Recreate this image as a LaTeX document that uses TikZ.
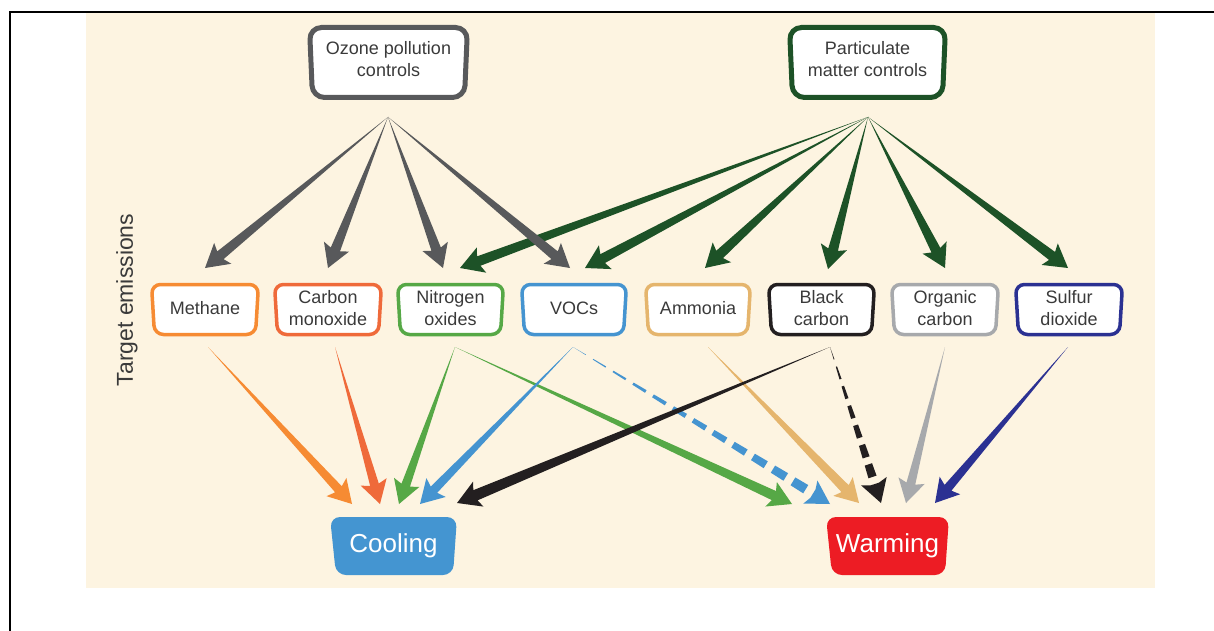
\documentclass[tikz,border=0pt]{standalone}
\usepackage{fontspec}
\setmainfont{Liberation Sans}
\usetikzlibrary{calc}
\definecolor{bg}{HTML}{FDF4E1}
\definecolor{txt}{HTML}{3A3A3A}
\definecolor{ozc}{HTML}{58595B}
\definecolor{pmc}{HTML}{1D5227}
\definecolor{methc}{HTML}{F68B33}
\definecolor{coc}{HTML}{EF6A3A}
\definecolor{noxc}{HTML}{56A846}
\definecolor{vocc}{HTML}{4594D0}
\definecolor{ammc}{HTML}{E5B56D}
\definecolor{bcc}{HTML}{231F20}
\definecolor{occ}{HTML}{A7A9AC}
\definecolor{soc}{HTML}{2B3192}
\definecolor{coolc}{HTML}{4495D1}
\definecolor{warmc}{HTML}{ED1C24}

\def\tyoff{0}
\newcommand\ebox[9]{% name, cx, cy, w, h, color, linewidth, text, radius
  \draw[line width=#7pt,draw=#6,fill=white,rounded corners=#9pt]
    ({#2-#4/2},{#3-#5/2}) -- ({#2+#4/2},{#3-#5/2}) -- ({#2+#4/2-3},{#3+#5/2}) -- ({#2-#4/2+3},{#3+#5/2}) -- cycle;
  \node[boxtext,minimum width=#4pt,minimum height=#5pt] (#1) at (#2,{#3+\tyoff}) {#8};
}
\newcommand\resbox[7]{% name, cx, cy, w, h, color, text
  \fill[#6,rounded corners=10pt]
    ({#2-#4/2},{#3-#5/2}) -- ({#2+#4/2},{#3-#5/2}) -- ({#2+#4/2-4},{#3+#5/2}) -- ({#2-#4/2+6},{#3+#5/2}) -- cycle;
  \node[restext,minimum width=#4pt,minimum height=#5pt] (#1) at (#2,#3) {#7};
}
\newcommand\tarr[4]{% src tip color halfwidth
  \coordinate (hs) at ($(#2)!20pt!(#1)$);
  \coordinate (hbb) at ($(#2)!23pt!(#1)$);
  \fill[#3] (#1) -- ($(hs)!#4pt!90:(#2)$) -- ($(hbb)!13.5pt!90:(#2)$) -- (#2) -- ($(hbb)!13.5pt!-90:(#2)$) -- ($(hs)!#4pt!-90:(#2)$) -- cycle;
}
\newcommand\tdash[5]{% src tip color halfwidth ndash
  \coordinate (hs) at ($(#2)!20pt!(#1)$);
  \coordinate (hbb) at ($(#2)!23pt!(#1)$);
  \fill[#3] (hs) -- ($(hs)!#4pt!90:(#2)$) -- ($(hbb)!13.5pt!90:(#2)$) -- (#2) -- ($(hbb)!13.5pt!-90:(#2)$) -- ($(hs)!#4pt!-90:(#2)$) -- cycle;
  \foreach \i in {1,...,#5}{%
    \pgfmathsetmacro\ta{(\i-1)/#5}%
    \pgfmathsetmacro\tb{(\i-0.36)/#5}%
    \pgfmathsetmacro\wa{\ta*#4}%
    \pgfmathsetmacro\wb{\tb*#4}%
    \coordinate (pa) at ($(#1)!\ta!(hs)$);
    \coordinate (pb) at ($(#1)!\tb!(hs)$);
    \fill[#3] ($(pa)!\wa pt!90:(#2)$) -- ($(pb)!\wb pt!90:(#2)$) -- ($(pb)!\wb pt!-90:(#2)$) -- ($(pa)!\wa pt!-90:(#2)$) -- cycle;
  }
}

\begin{document}
\begin{tikzpicture}[x=1pt,y=-1pt,
  boxtext/.style={align=center,text=txt,font=\fontsize{18}{21.5}\selectfont,inner sep=0pt},
  restext/.style={align=center,text=white,font=\fontsize{26}{30}\selectfont,inner sep=0pt}]
\useasboundingbox (0,0) rectangle (1214,631);
% frame
\draw[line width=2pt] (10,631) -- (10,12) -- (1214,12);
\fill[bg] (86,12.6) rectangle (1155,588);

% control boxes
\def\tyoff{-3.5}
\ebox{oz}{388.5}{62.5}{158}{70}{ozc}{5}{Ozone pollution\\controls}{12}
\ebox{pm}{867.5}{62.5}{156}{70}{pmc}{5}{Particulate\\matter controls}{12}
\def\tyoff{-1.5}

% emission boxes
\ebox{meth}{205}{309.5}{107}{50}{methc}{3.5}{Methane}{9}
\ebox{co}{328}{309.5}{107}{50}{coc}{3.5}{Carbon\\monoxide}{9}
\ebox{nox}{450.5}{309.5}{106}{50}{noxc}{3.5}{Nitrogen\\oxides}{9}
\ebox{voc}{574}{309.5}{105}{50}{vocc}{3.5}{VOCs}{9}
\ebox{amm}{698}{309.5}{105}{50}{ammc}{3.5}{Ammonia}{9}
\ebox{bc}{821.5}{309.5}{106}{50}{bcc}{3.5}{Black\\carbon}{9}
\ebox{oc}{945}{309.5}{107}{50}{occ}{3.5}{Organic\\carbon}{9}
\ebox{so}{1069}{309.5}{107}{50}{soc}{3.5}{Sulfur\\dioxide}{9}

% result boxes
\resbox{cool}{393.5}{546}{127}{58}{coolc}{Cooling}
\resbox{warm}{887.5}{546}{123}{58}{warmc}{Warming}

% side label
\node[rotate=90,text=txt,font=\fontsize{23}{27}\selectfont] (lab) at (127,300) {Target emissions};

% connector end points
\coordinate (ozs) at (388,117);
\coordinate (pms) at (868,117);
\coordinate (methT) at (205,268);
\coordinate (coT) at (328,268);
\coordinate (noxTo) at (443,268);
\coordinate (vocTo) at (570,268);
\coordinate (noxTp) at (460,268);
\coordinate (vocTp) at (585,268);
\coordinate (ammT) at (705,268);
\coordinate (bcT) at (828,269);
\coordinate (ocT) at (945,268);
\coordinate (soT) at (1068,268);

\coordinate (methS) at (208,347);
\coordinate (coS) at (335,347);
\coordinate (noxS) at (455,347);
\coordinate (vocS) at (573,347);
\coordinate (ammS) at (708,347);
\coordinate (bcS) at (830,347);
\coordinate (ocS) at (945,347);
\coordinate (soS) at (1068,347);

\coordinate (cMeth) at (352,504);
\coordinate (cCo) at (380,504);
\coordinate (cNox) at (399,504);
\coordinate (cVoc) at (420,504);
\coordinate (cBc) at (457,503);
\coordinate (wNox) at (792,504);
\coordinate (wVoc) at (830,504);
\coordinate (wAmm) at (859,503);
\coordinate (wBc) at (881,503);
\coordinate (wOc) at (906,503);
\coordinate (wSo) at (935,503);

% PM arrows
\tarr{pms}{noxTp}{pmc}{5}
\tarr{pms}{vocTp}{pmc}{5}
\tarr{pms}{ammT}{pmc}{5}
\tarr{pms}{bcT}{pmc}{5}
\tarr{pms}{ocT}{pmc}{5}
\tarr{pms}{soT}{pmc}{5}
% Ozone arrows
\tarr{ozs}{methT}{ozc}{5}
\tarr{ozs}{coT}{ozc}{5}
\tarr{ozs}{noxTo}{ozc}{5}
\tarr{ozs}{vocTo}{ozc}{5}

% lower arrows
\tarr{methS}{cMeth}{methc}{4.5}
\tarr{coS}{cCo}{coc}{4.5}
\tarr{ammS}{wAmm}{ammc}{5}
\tarr{noxS}{cNox}{noxc}{4.5}
\tarr{noxS}{wNox}{noxc}{5}
\tdash{vocS}{wVoc}{vocc}{5}{12}
\tarr{vocS}{cVoc}{vocc}{4.5}
\tarr{ocS}{wOc}{occ}{4.5}
\tarr{soS}{wSo}{soc}{4.5}
\tdash{bcS}{wBc}{bcc}{4.5}{7}
\tarr{bcS}{cBc}{bcc}{5.5}
\end{tikzpicture}
\end{document}
